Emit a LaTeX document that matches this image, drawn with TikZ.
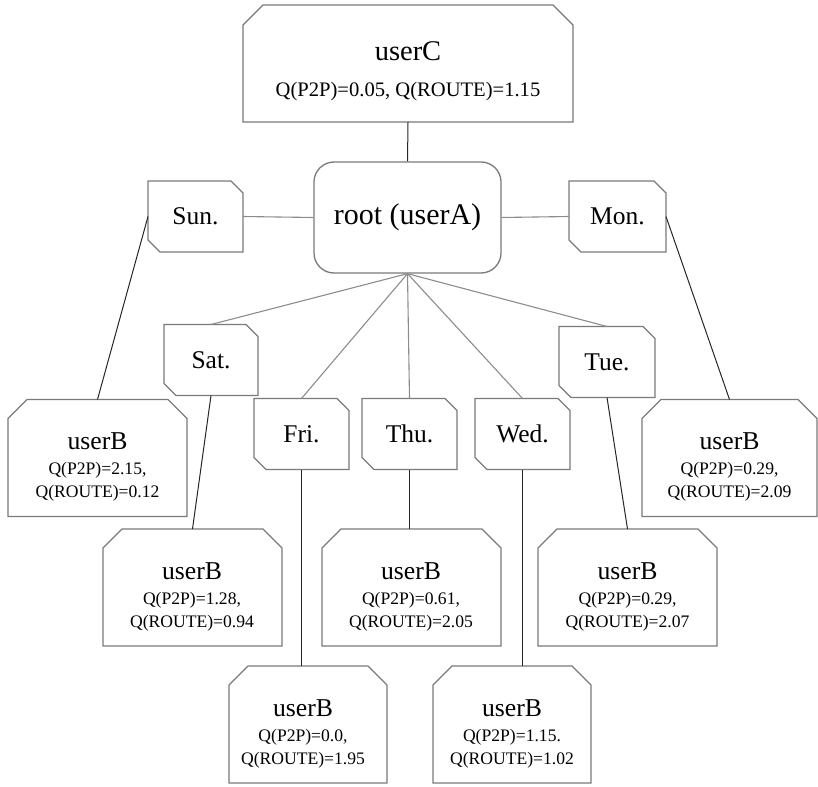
\documentclass[tikz,border=0pt]{standalone}
\usepackage{fontspec}
\setmainfont{Liberation Serif}
\usetikzlibrary{calc}

\definecolor{boxgray}{HTML}{7A7A7A}
\definecolor{linkgray}{HTML}{8C8C8C}

\newcommand\fRoot{\fontsize{30}{36}\selectfont}
\newcommand\fUserC{\fontsize{28.5}{34}\selectfont}
\newcommand\fUserCQ{\fontsize{20.6}{25}\selectfont}
\newcommand\fDay{\fontsize{25.5}{30}\selectfont}
\newcommand\fUserB{\fontsize{25.7}{30}\selectfont}
\newcommand\fUserBQ{\fontsize{17.6}{21}\selectfont}

\tikzset{
  frame/.style={rectangle, draw=none, inner sep=0pt, outer sep=0pt},
  outline/.style={draw=boxgray, line width=1.3pt, line join=miter},
  softlink/.style={draw=linkgray, line width=1.1pt},
  hardlink/.style={draw=black!85, line width=1pt},
}

% box with its two upper corners cut off
\newcommand\topcut[2]{%
  \draw[outline] (#1.south west) -- ($(#1.north west)+(0pt,-#2)$)
    -- ($(#1.north west)+(#2,0pt)$) -- ($(#1.north east)+(-#2,0pt)$)
    -- ($(#1.north east)+(0pt,-#2)$) -- (#1.south east) -- cycle;}

% box with the upper right and lower left corners cut off
\newcommand\daycut[2]{%
  \draw[outline] (#1.north west) -- ($(#1.north east)+(-#2,0pt)$)
    -- ($(#1.north east)+(0pt,-#2)$) -- (#1.south east)
    -- ($(#1.south west)+(#2,0pt)$) -- ($(#1.south west)+(0pt,#2)$) -- cycle;}

% day box: name, centre x, centre y, width, label
\newcommand\daybox[5]{%
  \node[frame, minimum width=#4, minimum height=71, font=\fDay] (#1) at (#2,#3) {#5};
  \daycut{#1}{12pt}}

% userB box: name, centre x, centre y, width, text x, P2P value, ROUTE value
\newcommand\ubox[7]{%
  \node[frame, minimum width=#4, minimum height=117] (#1) at (#2,#3) {};
  \topcut{#1}{19pt}
  \coordinate (#1-t) at (#5,#3);
  \node[anchor=base, font=\fUserB, inner sep=0pt] (#1-n) at ($(#1-t |- #1.north)+(0pt,-50pt)$) {userB};
  \node[anchor=base, font=\fUserBQ, inner sep=0pt] (#1-p) at ($(#1-t |- #1.north)+(0pt,-75pt)$) {Q(P2P)=#6};
  \node[anchor=base, font=\fUserBQ, inner sep=0pt] (#1-r) at ($(#1-t |- #1.north)+(0pt,-98pt)$) {Q(ROUTE)=#7};}

\begin{document}
\begin{tikzpicture}[x=1pt, y=-1pt]
  \useasboundingbox (0,0) rectangle (818,786);

  % top: userC
  \node[frame, minimum width=330, minimum height=117] (uc) at (408,63.5) {};
  \topcut{uc}{20pt}
  \node[anchor=base, font=\fUserC, inner sep=0pt] (uc-n) at ($(uc.north)+(0pt,-56pt)$) {userC};
  \node[anchor=base, font=\fUserCQ, inner sep=0pt] (uc-q) at ($(uc.north)+(0pt,-92pt)$) {Q(P2P)=0.05, Q(ROUTE)=1.15};

  % root
  \node[rectangle, rounded corners=20pt, draw=boxgray, line width=1.3pt, inner sep=0pt,
        minimum width=187, minimum height=111, font=\fRoot] (root) at (407.5,217.5) {root (userA)};

  % days
  \daybox{sun}{195.5}{216.5}{95}{Sun.}
  \daybox{mon}{617.5}{216.5}{97}{Mon.}
  \daybox{sat}{211}{360}{94}{Sat.}
  \daybox{tue}{607}{362}{96}{Tue.}
  \daybox{fri}{301.5}{434}{95}{Fri.}
  \daybox{thu}{409.5}{434}{95}{Thu.}
  \daybox{wed}{522.5}{434}{95}{Wed.}

  % userB leaves
  \ubox{bsun}{97.5}{458}{179}{97.5}{2.15,}{0.12}
  \ubox{bmon}{729.5}{458}{175}{729.5}{0.29,}{2.09}
  \ubox{bsat}{192.5}{587.5}{179}{192}{1.28,}{0.94}
  \ubox{bthu}{411.5}{587.5}{179}{411}{0.61,}{2.05}
  \ubox{btue}{627.5}{587.5}{179}{627.5}{0.29,}{2.07}
  \ubox{bfri}{308}{724.5}{158}{303}{0.0,}{1.95}
  \ubox{bwed}{512}{724.5}{158}{512}{1.15.}{1.02}

  % links
  \draw[hardlink] (uc.south) -- (root.north);
  \draw[softlink] (sun.east) -- (root.west);
  \draw[softlink] (root.east) -- (mon.west);
  \draw[softlink] (root.south) -- (sat.north);
  \draw[softlink] (root.south) -- (fri.north);
  \draw[softlink] (root.south) -- (thu.north);
  \draw[softlink] (root.south) -- (wed.north);
  \draw[softlink] (root.south) -- (tue.north);

  \draw[hardlink] (sun.west) -- (bsun.north);
  \draw[hardlink] (mon.east) -- (bmon.north);
  \draw[hardlink] (sat.south) -- (bsat.north);
  \draw[hardlink] (tue.south) -- (btue.north);
  \draw[hardlink] (thu.south) -- (thu.south |- bthu.north);
  \draw[hardlink] (fri.south) -- (fri.south |- bfri.north);
  \draw[hardlink] (wed.south) -- (wed.south |- bwed.north);
\end{tikzpicture}
\end{document}
